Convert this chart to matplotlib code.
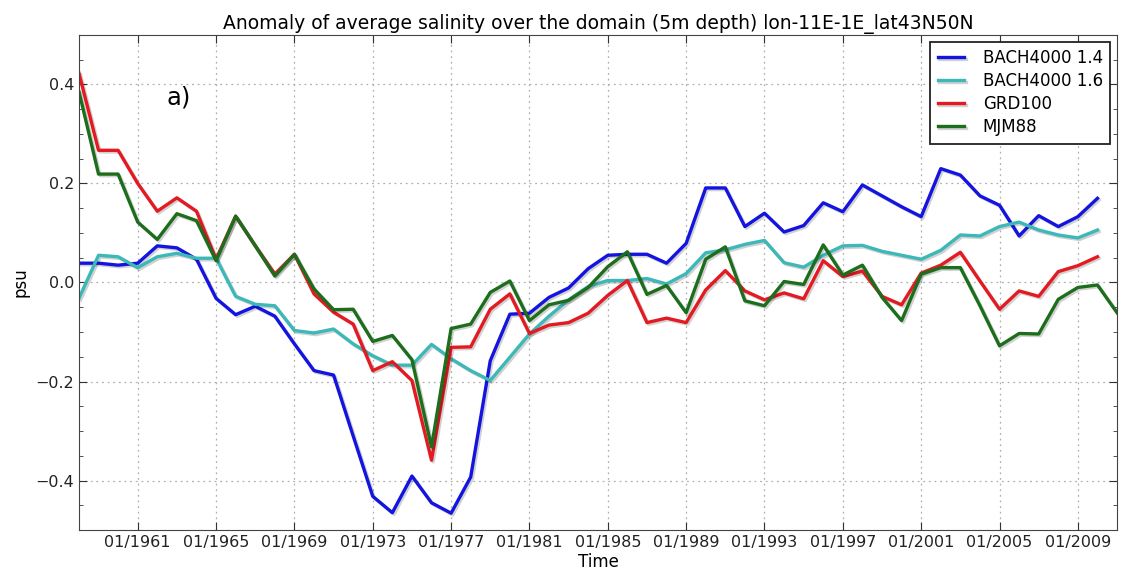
import numpy as np
import matplotlib
matplotlib.use("Agg")
import matplotlib.pyplot as plt
import matplotlib.patheffects as pe
from matplotlib.ticker import MultipleLocator, FixedLocator

# ── data (annual values, Jan of each year) ────────────────────────────────
years = np.arange(1958, 2011)
years_mjm = np.arange(1958, 2012)

bach14 = [0.039, 0.039, 0.035, 0.039, 0.074, 0.070, 0.047, -0.032, -0.065, -0.048,
          -0.068, -0.124, -0.178, -0.187, -0.310, -0.432, -0.465, -0.391, -0.445, -0.466,
          -0.393, -0.158, -0.064, -0.062, -0.030, -0.011, 0.028, 0.055, 0.057, 0.057,
          0.039, 0.079, 0.191, 0.191, 0.113, 0.140, 0.102, 0.115, 0.161, 0.143,
          0.197, 0.175, 0.153, 0.133, 0.230, 0.217, 0.175, 0.156, 0.094, 0.135,
          0.113, 0.133, 0.170]

bach16 = [-0.032, 0.055, 0.052, 0.030, 0.052, 0.059, 0.049, 0.049, -0.028, -0.044,
          -0.047, -0.097, -0.102, -0.094, -0.124, -0.148, -0.167, -0.167, -0.125, -0.154,
          -0.178, -0.198, -0.151, -0.104, -0.068, -0.035, -0.008, 0.004, 0.004, 0.008,
          -0.003, 0.018, 0.060, 0.066, 0.077, 0.085, 0.040, 0.031, 0.055, 0.074,
          0.075, 0.063, 0.055, 0.047, 0.065, 0.096, 0.094, 0.113, 0.122, 0.106,
          0.096, 0.090, 0.106]

grd100 = [0.423, 0.267, 0.267, 0.200, 0.144, 0.171, 0.144, 0.047, 0.134, 0.074,
          0.017, 0.057, -0.023, -0.060, -0.084, -0.178, -0.160, -0.198, -0.359, -0.131,
          -0.130, -0.054, -0.023, -0.103, -0.086, -0.081, -0.062, -0.026, 0.004, -0.081,
          -0.072, -0.081, -0.015, 0.024, -0.017, -0.035, -0.021, -0.033, 0.044, 0.012,
          0.023, -0.028, -0.045, 0.019, 0.035, 0.061, 0.003, -0.054, -0.017, -0.028,
          0.022, 0.034, 0.052]

mjm88 = [0.386, 0.219, 0.219, 0.122, 0.087, 0.139, 0.125, 0.044, 0.134, 0.074,
         0.013, 0.057, -0.013, -0.055, -0.054, -0.119, -0.107, -0.156, -0.332, -0.093,
         -0.084, -0.020, 0.003, -0.077, -0.045, -0.036, -0.010, 0.032, 0.062, -0.024,
         -0.006, -0.061, 0.047, 0.072, -0.037, -0.047, 0.002, -0.004, 0.076, 0.015,
         0.035, -0.030, -0.077, 0.017, 0.030, 0.030, -0.047, -0.128, -0.103, -0.104,
         -0.034, -0.010, -0.005, -0.061]

tick_years = list(range(1961, 2010, 4))
tick_labels = [f"01/{y}" for y in tick_years]

# ── plot ──────────────────────────────────────────────────────────────────
fig = plt.figure(figsize=(11.23, 5.79), dpi=100)
ax = fig.add_axes([0.0703, 0.0846, 0.9244, 0.855])

shadow = [pe.SimpleLineShadow(offset=(1.2, -1.2), alpha=0.18), pe.Normal()]
ax.plot(years, bach14, color="#1414e0", lw=2.4, label="BACH4000 1.4", path_effects=shadow)
ax.plot(years, bach16, color="#3cb8b8", lw=2.4, label="BACH4000 1.6", path_effects=shadow)
ax.plot(years, grd100, color="#e41a22", lw=2.4, label="GRD100", path_effects=shadow)
ax.plot(years_mjm, mjm88, color="#1c6e1c", lw=2.4, label="MJM88", path_effects=shadow)

ax.set_xlim(1958, 2011)
ax.set_ylim(-0.5, 0.5)
ax.xaxis.set_major_locator(FixedLocator(tick_years))
ax.set_xticklabels(tick_labels)
ax.yaxis.set_major_locator(MultipleLocator(0.2))
ax.yaxis.set_minor_locator(MultipleLocator(0.05))
ax.tick_params(which="both", direction="in", top=True, right=True, labelsize=11.5,
               colors="#333333", labelcolor="#222222")
ax.tick_params(which="major", length=6)
ax.tick_params(which="minor", length=3)
ax.grid(True, which="major", linestyle=(0, (1.5, 3)), color="#b0b0b0", linewidth=0.9)
for s in ax.spines.values():
    s.set_color("#444444")

ax.set_xlabel("Time", fontsize=12, labelpad=2)
ax.set_ylabel("psu", fontsize=12)
ax.set_title("Anomaly of average salinity over the domain (5m depth) lon-11E-1E_lat43N50N",
             fontsize=13.5, pad=4)
ax.text(0.0848, 0.859, "a)", transform=ax.transAxes, fontsize=17.5)

leg = ax.legend(loc="upper right", fontsize=12, fancybox=False, framealpha=1,
                edgecolor="#222222", borderpad=0.45, handlelength=1.6,
                handletextpad=1.1, labelspacing=0.3, borderaxespad=0.4)
leg.get_frame().set_linewidth(1.3)

fig.savefig("out.png", dpi=100)
